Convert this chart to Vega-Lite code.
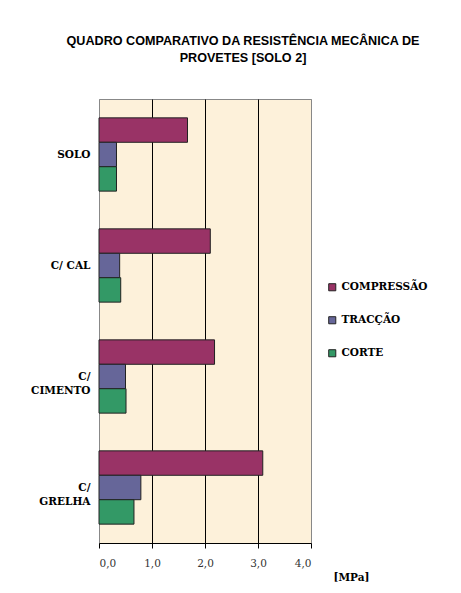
{
  "$schema": "https://vega.github.io/schema/vega-lite/v6.json",
  "width": 212,
  "height": 444,
  "autosize": {"type": "none"},
  "padding": {"left": 99, "top": 99, "right": 150, "bottom": 50},
  "background": "white",
  "title": {
    "text": ["QUADRO COMPARATIVO DA RESISTÊNCIA MECÂNICA DE", "PROVETES [SOLO 2]"],
    "font": "Liberation Sans",
    "fontSize": 12.6,
    "fontWeight": "bold",
    "color": "#000000",
    "anchor": "middle",
    "dx": 38,
    "offset": 34,
    "lineHeight": 17
  },
  "data": {
    "values": [
      {"grupo": "SOLO", "tipo": "COMPRESSÃO", "valor": 1.67},
      {"grupo": "SOLO", "tipo": "TRACÇÃO", "valor": 0.33},
      {"grupo": "SOLO", "tipo": "CORTE", "valor": 0.33},
      {"grupo": "C/ CAL", "tipo": "COMPRESSÃO", "valor": 2.1},
      {"grupo": "C/ CAL", "tipo": "TRACÇÃO", "valor": 0.39},
      {"grupo": "C/ CAL", "tipo": "CORTE", "valor": 0.41},
      {"grupo": "C/|CIMENTO", "tipo": "COMPRESSÃO", "valor": 2.18},
      {"grupo": "C/|CIMENTO", "tipo": "TRACÇÃO", "valor": 0.5},
      {"grupo": "C/|CIMENTO", "tipo": "CORTE", "valor": 0.51},
      {"grupo": "C/|GRELHA", "tipo": "COMPRESSÃO", "valor": 3.09},
      {"grupo": "C/|GRELHA", "tipo": "TRACÇÃO", "valor": 0.79},
      {"grupo": "C/|GRELHA", "tipo": "CORTE", "valor": 0.66}
    ]
  },
  "mark": {"type": "bar", "stroke": "#222222", "strokeWidth": 1},
  "encoding": {
    "y": {
      "field": "grupo",
      "type": "nominal",
      "sort": ["SOLO", "C/ CAL", "C/|CIMENTO", "C/|GRELHA"],
      "scale": {"paddingInner": 0.34, "paddingOuter": 0.17},
      "axis": {
        "title": null,
        "labelExpr": "split(datum.label, '|')",
        "labelFont": "DejaVu Serif",
        "labelFontWeight": "bold",
        "labelFontSize": 10.5,
        "labelColor": "#000000",
        "labelLineHeight": 14,
        "ticks": false,
        "domain": false,
        "labelPadding": 9
      }
    },
    "yOffset": {
      "field": "tipo",
      "type": "nominal",
      "sort": ["COMPRESSÃO", "TRACÇÃO", "CORTE"],
      "scale": {"paddingInner": 0, "paddingOuter": 0}
    },
    "x": {
      "field": "valor",
      "type": "quantitative",
      "scale": {"domain": [0, 4], "nice": false},
      "axis": {
        "values": [0, 1, 2, 3, 4],
        "labelExpr": "replace(format(datum.value, '.1f'), '.', ',')",
        "labelFont": "DejaVu Serif",
        "labelFontSize": 10.5,
        "labelColor": "#333333",
        "labelPadding": 10,
        "grid": true,
        "gridColor": {"condition": {"test": "datum.value == 0 || datum.value == 4", "value": "#888888"}, "value": "#000000"},
        "gridOpacity": 1,
        "gridWidth": 1,
        "domainColor": "#000000",
        "tickColor": "#000000",
        "tickSize": 5,
        "title": "[MPa]",
        "titleFont": "DejaVu Serif",
        "titleFontWeight": "bold",
        "titleFontSize": 10.5,
        "titleColor": "#000000",
        "titleX": 252,
        "titleY": 34,
        "titleAlign": "center",
        "titleBaseline": "middle",
        "titleAngle": 0
      }
    },
    "color": {
      "field": "tipo",
      "type": "nominal",
      "scale": {
        "domain": ["COMPRESSÃO", "TRACÇÃO", "CORTE"],
        "range": ["#993366", "#666699", "#339966"]
      },
      "legend": {
        "orient": "none",
        "legendX": 228,
        "legendY": 183,
        "title": null,
        "labelFont": "DejaVu Serif",
        "labelFontWeight": "bold",
        "labelFontSize": 10.5,
        "labelColor": "#000000",
        "symbolType": "square",
        "symbolSize": 50,
        "symbolStrokeColor": "#222222",
        "symbolStrokeWidth": 1,
        "rowPadding": 21,
        "labelOffset": 4
      }
    }
  },
  "config": {
    "view": {"fill": "#FDF1DA", "stroke": "#888888", "strokeWidth": 1}
  }
}
